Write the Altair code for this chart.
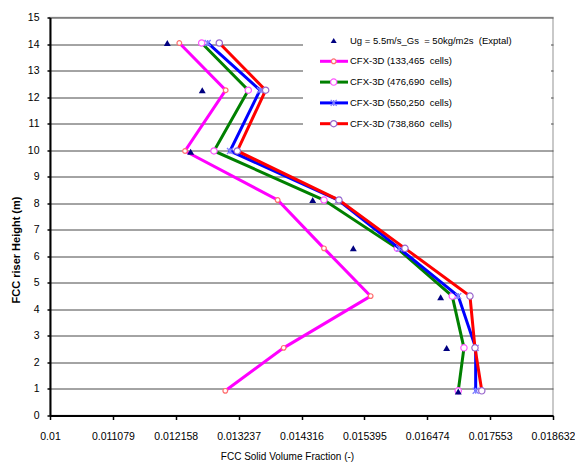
import altair as alt
import pandas as pd

# Measured solids fraction along the riser (experiment)
heights_exp = [14.04, 12.26, 9.94, 8.12, 6.30, 4.46, 2.54, 0.90]
fraction_exp = [0.012013, 0.012613, 0.012414, 0.014508, 0.015205, 0.016704, 0.016807, 0.017006]

# CFX-3D predictions for four mesh sizes
heights_cfx = [14.04, 12.26, 9.97, 8.12, 6.30, 4.50, 2.55, 0.93]
cfx_133465 = [0.012219, 0.013015, 0.012317, 0.013907, 0.014702, 0.015503, 0.014010, 0.013008]
cfx_476690 = [0.012603, 0.013403, 0.012814, 0.014702, 0.015960, 0.016903, 0.017104, 0.017006]
cfx_550250 = [0.012706, 0.013604, 0.013089, 0.014947, 0.015994, 0.017006, 0.017305, 0.017305]
cfx_738860 = [0.012905, 0.013701, 0.013214, 0.014959, 0.016092, 0.017207, 0.017293, 0.017410]

x_ticks = [0.01, 0.011079, 0.012158, 0.013237, 0.014316, 0.015395, 0.016474, 0.017553, 0.018632]
y_ticks = list(range(0, 16))

exp_label = "Ug = 5.5m/s_Gs\u00a0 = 50kg/m2s\u00a0 (Exptal)"
cfx_labels = [
    "CFX-3D (133,465\u00a0 cells)",
    "CFX-3D (476,690\u00a0 cells)",
    "CFX-3D (550,250\u00a0 cells)",
    "CFX-3D (738,860\u00a0 cells)",
]

FONT = "Liberation Sans"
STAR = "M-1,-1L1,1M-1,1L1,-1M0,-1L0,1"

# line colour, marker shape, marker fill, marker stroke, marker size
styles = [
    ("#FF00FF", "circle", "white", "#FF6F6F", 22),
    ("#008000", "circle", "white", "#FF55FF", 40),
    ("#0000FF", STAR, None, "#7F7FFF", 36),
    ("#FF0000", "circle", "white", "#9966CC", 40),
]
series = [cfx_133465, cfx_476690, cfx_550250, cfx_738860]

x_enc = alt.X(
    "fraction:Q",
    scale=alt.Scale(domain=[0.01, 0.018632], nice=False, zero=False),
    axis=alt.Axis(
        values=x_ticks, labelExpr="'' + datum.value", grid=False,
        labelOverlap=False, labelFlush=False,
        domainColor="black", domainWidth=2, tickColor="black", tickWidth=1.5,
        tickSize=4, labelPadding=17, labelBaseline="middle",
        labelFont=FONT, labelFontSize=10.5, labelColor="black",
        title="FCC Solid Volume Fraction (-)", titleFont=FONT, titleFontSize=10,
        titleFontWeight="normal", titleColor="black",
        titleX=237, titleY=41, titleAlign="center", titleBaseline="middle",
    ),
)
y_enc = alt.Y(
    "height:Q",
    scale=alt.Scale(domain=[0, 15], nice=False, zero=True),
    axis=alt.Axis(
        values=y_ticks, format="d", grid=True, gridColor="#484848", gridWidth=1,
        labelOverlap=False,
        domainColor="black", domainWidth=2, tickColor="black", tickWidth=1.5,
        tickSize=3, labelPadding=8,
        labelFont=FONT, labelFontSize=10.5, labelColor="black",
        title="FCC riser Height (m)", titleFont=FONT, titleFontSize=11,
        titleFontWeight="bold", titleColor="black",
        titleX=-34, titleY=232, titleAngle=270, titleAlign="center",
        titleBaseline="middle",
    ),
)

layers = []
for vals, label, (col, shape, fill, mstroke, msize) in zip(series, cfx_labels, styles):
    df = pd.DataFrame({"height": heights_cfx, "fraction": vals,
                       "idx": range(len(vals)), "series": label})
    line = alt.Chart(df).mark_line(color=col, strokeWidth=3).encode(
        x=x_enc, y=y_enc, order="idx:Q")
    if fill is None:
        pt = alt.Chart(df).mark_point(shape=shape, filled=False, stroke=mstroke,
                                      strokeWidth=1.3, size=msize, opacity=1)
    else:
        pt = alt.Chart(df).mark_point(shape=shape, filled=True, fill=fill,
                                      stroke=mstroke, strokeWidth=1.2,
                                      size=msize, opacity=1)
    layers += [line, pt.encode(x=x_enc, y=y_enc)]

exp_df = pd.DataFrame({"height": heights_exp, "fraction": fraction_exp})
layers.append(
    alt.Chart(exp_df).mark_point(shape="triangle-up", filled=True, color="#000080",
                                 size=48, opacity=1).encode(x=x_enc, y=y_enc)
)

# Legend box in the upper right corner of the plot
leg_rows = pd.DataFrame({"row": [0, 1, 2, 3, 4], "label": [exp_label] + cfx_labels})
leg_y = alt.Y("row:Q", scale=alt.Scale(domain=[0, 4], range=[23, 106.2]), axis=None)

legend_layers = [
    alt.Chart(leg_rows).mark_rect(color="white").encode(
        x=alt.value(253), x2=alt.value(501), y=alt.value(8), y2=alt.value(118)),
    alt.Chart(leg_rows).mark_text(align="left", baseline="middle", font=FONT,
                                  fontSize=9.5, color="black").encode(
        x=alt.value(300), y=leg_y, text="label:N"),
    alt.Chart(leg_rows[leg_rows.row == 0]).mark_point(
        shape="triangle-up", filled=True, color="#000080", size=36, opacity=1).encode(
        x=alt.value(283.7), y=leg_y),
]
for i, (col, shape, fill, mstroke, msize) in enumerate(styles):
    r = leg_rows[leg_rows.row == i + 1]
    legend_layers.append(
        alt.Chart(r).mark_rule(color=col, strokeWidth=3).encode(
            x=alt.value(270), x2=alt.value(298), y=leg_y))
    if fill is None:
        mk = alt.Chart(r).mark_point(shape=shape, filled=False, stroke=mstroke,
                                     strokeWidth=1.3, size=msize, opacity=1)
    else:
        mk = alt.Chart(r).mark_point(shape=shape, filled=True, fill=fill,
                                     stroke=mstroke, strokeWidth=1.2,
                                     size=msize, opacity=1)
    legend_layers.append(mk.encode(x=alt.value(283.7), y=leg_y))

data_chart = alt.layer(*layers)
legend_chart = alt.layer(*legend_layers)

chart = (
    alt.layer(data_chart, legend_chart)
    .resolve_scale(y="independent")
    .properties(
        width=503, height=398,
        autosize=alt.AutoSizeParams(type="none"),
        padding={"left": 50, "top": 17.5, "right": 22, "bottom": 49.5},
        background="white",
    )
    .configure_view(stroke="#b8b8b8", strokeWidth=1.5)
)

chart.save("out.html", embed_options={"renderer": "svg", "actions": False})
